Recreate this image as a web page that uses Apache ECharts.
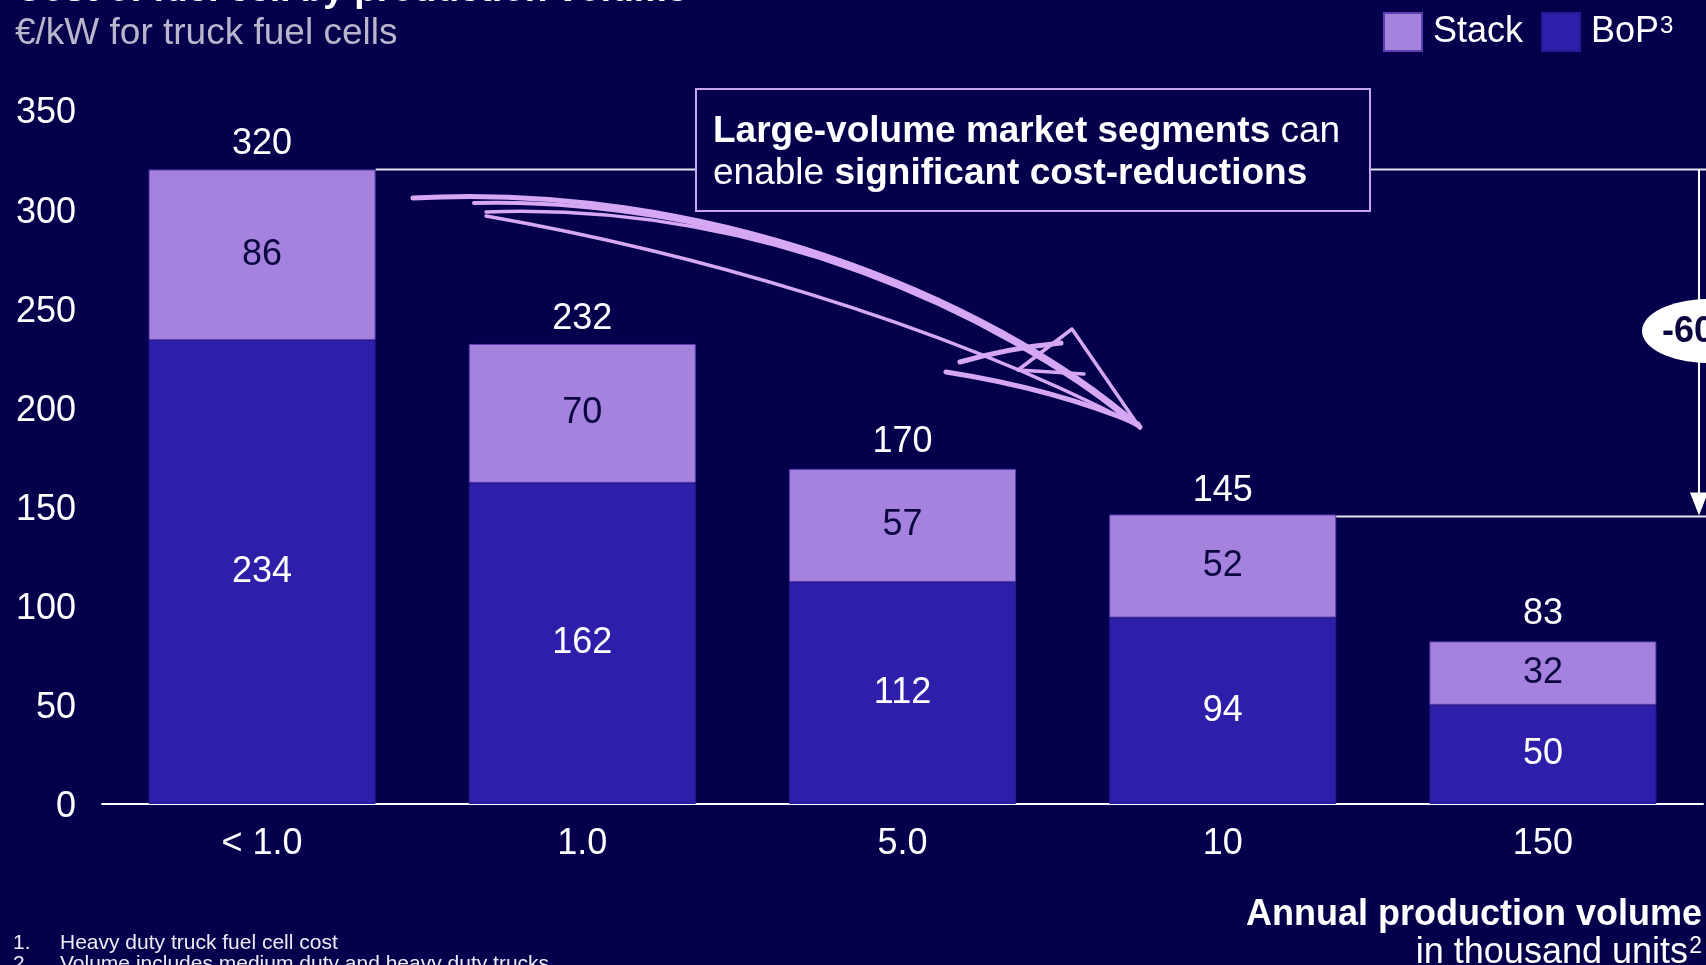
<!DOCTYPE html>
<html>
<head>
<meta charset="utf-8">
<script src="https://cdn.jsdelivr.net/npm/echarts@6/dist/echarts.min.js"></script>
<style>
  html, body { margin: 0; padding: 0; background: #04004c; }
  #chart { width: 1706px; height: 965px; }
</style>
</head>
<body>
<div id="chart"></div>
<script>
// Fuel cell cost (€/kW) by annual production volume
const categories = ['< 1.0', '1.0', '5.0', '10', '150'];
const bopValues = [234, 162, 112, 94, 50];
const stackValues = [86, 70, 57, 52, 32];
const totalValues = [320, 232, 170, 145, 83];
const yMin = 0, yMax = 350, yStep = 50;
const reductionLabel = '-60%';

const BG = '#04004c';
const STACK = '#a682df';
const BOP = '#2d1fa9';
const LAVENDER = '#d6a8f4';
const FONT = '"Liberation Sans", Arial, sans-serif';
const BAR_W = 227;

const chart = echarts.init(document.getElementById('chart'), null, { renderer: 'canvas' });

const option = {
  backgroundColor: BG,
  animation: false,
  textStyle: { fontFamily: FONT },
  grid: { left: 102, right: 3, top: 110, bottom: 161, containLabel: false },
  legend: {
    data: ['Stack', 'BoP'],
    left: 1378, top: 7,
    itemWidth: 38, itemHeight: 38, itemGap: 18,
    icon: 'rect',
    selectedMode: false,
    formatter: name => name === 'BoP' ? 'BoP{sup|3}' : name,
    textStyle: {
      color: '#ffffff', fontSize: 36, fontFamily: FONT, padding: [0, 0, 0, 6],
      rich: { sup: { color: '#ffffff', fontSize: 24, fontFamily: FONT, verticalAlign: 'top', padding: [0, 0, 12, 1] } }
    }
  },
  xAxis: {
    type: 'category',
    data: categories,
    axisLine: { lineStyle: { color: '#ffffff', width: 2 } },
    axisTick: { show: false },
    axisLabel: { color: '#ffffff', fontSize: 36, fontFamily: FONT, margin: 22 }
  },
  yAxis: {
    type: 'value',
    min: yMin, max: yMax, interval: yStep,
    axisLine: { show: false },
    axisTick: { show: false },
    splitLine: { show: false },
    axisLabel: {
      color: '#ffffff', fontSize: 36, fontFamily: FONT, margin: 26,
      formatter: '{v|{value}}',
      rich: { v: { color: '#ffffff', fontSize: 36, fontFamily: FONT, padding: [7, 0, 0, 0] } }
    }
  },
  series: [
    {
      name: 'BoP', type: 'bar', stack: 'cost', barWidth: BAR_W,
      data: bopValues,
      itemStyle: { color: BOP, borderColor: '#261a96', borderWidth: 1 },
      label: { show: true, position: 'inside', color: '#ffffff', fontSize: 36, fontFamily: FONT }
    },
    {
      name: 'Stack', type: 'bar', stack: 'cost', barWidth: BAR_W,
      data: stackValues,
      itemStyle: { color: STACK, borderColor: '#5b3fae', borderWidth: 1 },
      label: { show: true, position: 'inside', color: '#0b0640', fontSize: 36, fontFamily: FONT }
    },
    {
      name: 'Total', type: 'bar', barWidth: BAR_W, barGap: '-100%',
      data: totalValues, silent: true, z: 1,
      itemStyle: { color: 'rgba(0,0,0,0)' },
      label: { show: true, position: 'top', distance: 7, color: '#ffffff', fontSize: 36, fontFamily: FONT }
    }
  ]
};
chart.setOption(option);

// Annotation overlay placed through the chart's own scales
const yPx = v => chart.convertToPixel({ yAxisIndex: 0 }, v);
const xPx = i => chart.convertToPixel({ xAxisIndex: 0 }, i);
const yTop = yPx(totalValues[0]);
const yLow = yPx(totalValues[3]);
const firstRight = xPx(0) + BAR_W / 2;
const fourthRight = xPx(3) + BAR_W / 2;
const arrowX = 1699;

const pen = w => ({ stroke: LAVENDER, lineWidth: w, fill: null, lineCap: 'round', lineJoin: 'round' });

const graphics = [
  // title (runs off the top edge) and subtitle
  { type: 'text', z: 10, x: 15, y: 9,
    style: { text: 'Cost of fuel cell by production volume', fill: '#ffffff', font: 'bold 37px ' + FONT, verticalAlign: 'bottom' } },
  { type: 'text', z: 10, x: 15, y: 34,
    style: { text: '€/kW for truck fuel cells', fill: '#b9b6cc', font: '37px ' + FONT, verticalAlign: 'middle' } },

  // reference lines at the first and fourth totals
  { type: 'line', z: 5, shape: { x1: firstRight, y1: yTop, x2: 1706, y2: yTop },
    style: { stroke: '#e6e4f2', lineWidth: 2 } },
  { type: 'line', z: 5, shape: { x1: fourthRight, y1: yLow, x2: 1706, y2: yLow },
    style: { stroke: '#e6e4f2', lineWidth: 2 } },
  // downward arrow
  { type: 'line', z: 5, shape: { x1: arrowX, y1: yTop, x2: arrowX, y2: yLow - 20 },
    style: { stroke: '#ffffff', lineWidth: 2 } },
  { type: 'polygon', z: 5, shape: { points: [[arrowX - 9, yLow - 24], [arrowX + 9, yLow - 24], [arrowX, yLow - 1]] },
    style: { fill: '#ffffff' } },
  { type: 'ellipse', z: 6, shape: { cx: 1709, cy: 331, rx: 67, ry: 32 }, style: { fill: '#ffffff' } },
  { type: 'text', z: 7, x: 1662, y: 332,
    style: { text: reductionLabel, fill: '#0b0640', font: 'bold 36px ' + FONT, verticalAlign: 'middle' } },

  // callout box
  { type: 'rect', z: 8, shape: { x: 696, y: 89, width: 674, height: 122 },
    style: { fill: BG, stroke: '#c9a4ef', lineWidth: 2 } },
  { type: 'text', z: 9, x: 713, y: 111,
    style: {
      text: '{b|Large-volume market segments}{r| can}\n{r|enable }{b|significant cost-reductions}',
      verticalAlign: 'top', lineHeight: 42,
      rich: {
        b: { fill: '#ffffff', font: 'bold 37px ' + FONT, lineHeight: 42 },
        r: { fill: '#ffffff', font: '37px ' + FONT, lineHeight: 42 }
      }
    } },

  // hand-drawn arrow
  { type: 'bezierCurve', z: 9, shape: { x1: 413, y1: 198, cpx1: 700, cpy1: 182, cpx2: 985, cpy2: 292, x2: 1140, y2: 427 }, style: pen(5) },
  { type: 'bezierCurve', z: 9, shape: { x1: 474, y1: 203, cpx1: 725, cpy1: 196, cpx2: 990, cpy2: 302, x2: 1128, y2: 420 }, style: pen(4) },
  { type: 'bezierCurve', z: 9, shape: { x1: 486, y1: 212, cpx1: 760, cpy1: 202, cpx2: 995, cpy2: 312, x2: 1136, y2: 425 }, style: pen(3.5) },
  { type: 'bezierCurve', z: 9, shape: { x1: 1136, y1: 425, cpx1: 930, cpy1: 318, cpx2: 680, cpy2: 250, x2: 486, y2: 216 }, style: pen(3.5) },
  { type: 'bezierCurve', z: 9, shape: { x1: 960, y1: 362, cpx1: 995, cpy1: 352, cpx2: 1030, cpy2: 346, x2: 1061, y2: 343 }, style: pen(5) },
  { type: 'polyline', z: 9, shape: { points: [[1018, 370], [1072, 329], [1140, 428]] }, style: pen(3.5) },
  { type: 'bezierCurve', z: 9, shape: { x1: 946, y1: 372, cpx1: 1010, cpy1: 382, cpx2: 1080, cpy2: 400, x2: 1138, y2: 424 }, style: pen(5) },
  { type: 'line', z: 9, shape: { x1: 1018, y1: 370, x2: 1084, y2: 374 }, style: pen(3.5) },

  // axis title, bottom right
  { type: 'text', z: 10, x: 1702, y: 915,
    style: { text: 'Annual production volume', fill: '#ffffff', font: 'bold 36px ' + FONT, align: 'right', verticalAlign: 'middle' } },
  { type: 'text', z: 10, x: 1688, y: 953,
    style: { text: 'in thousand units', fill: '#ffffff', font: '36px ' + FONT, align: 'right', verticalAlign: 'middle' } },
  { type: 'text', z: 10, x: 1702, y: 947,
    style: { text: '2', fill: '#ffffff', font: '23px ' + FONT, align: 'right', verticalAlign: 'middle' } },

  // footnotes
  { type: 'text', z: 10, x: 13, y: 943, style: { text: '1.', fill: '#ececf4', font: '21px ' + FONT, verticalAlign: 'middle' } },
  { type: 'text', z: 10, x: 60, y: 943, style: { text: 'Heavy duty truck fuel cell cost', fill: '#ececf4', font: '21px ' + FONT, verticalAlign: 'middle' } },
  { type: 'text', z: 10, x: 13, y: 964, style: { text: '2.', fill: '#ececf4', font: '21px ' + FONT, verticalAlign: 'middle' } },
  { type: 'text', z: 10, x: 60, y: 964, style: { text: 'Volume includes medium duty and heavy duty trucks', fill: '#ececf4', font: '21px ' + FONT, verticalAlign: 'middle' } }
];

chart.setOption({ graphic: graphics });
</script>
</body>
</html>
